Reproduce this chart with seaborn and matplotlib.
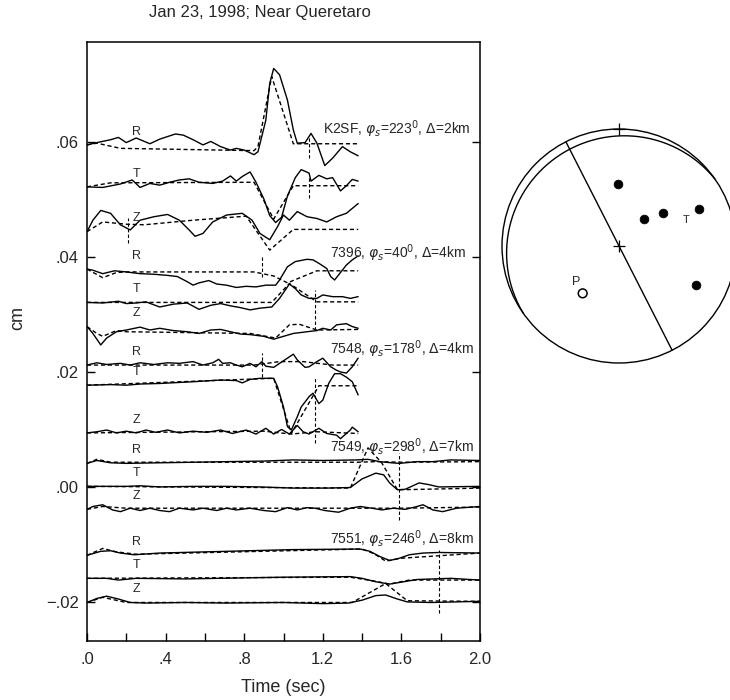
import numpy as np
import pandas as pd
import seaborn as sns
import matplotlib.pyplot as plt
from matplotlib.patches import Circle

# ---- data ----
# each trace: (time in sec, amplitude in 0.001 cm above the trace baseline)
k2sf_r_obs = [(0.00, 0.0), (0.05, 0.4), (0.12, 0.9), (0.16, 1.3), (0.20, 0.4), (0.25, 1.2), (0.32, 0.2),
              (0.37, 1.0), (0.45, 1.9), (0.49, 1.7), (0.54, 0.9), (0.59, 0.0), (0.63, 0.6), (0.68, -0.3),
              (0.73, -0.9), (0.76, -0.6), (0.80, -0.9), (0.85, -1.7), (0.87, -1.2), (0.91, 4.3), (0.93, 10.7),
              (0.95, 13.3), (0.98, 12.2), (1.02, 7.8), (1.05, 2.6), (1.07, 0.3), (1.11, 0.4), (1.14, 2.0),
              (1.17, 0.3), (1.21, -3.6), (1.25, -2.3), (1.30, -0.3), (1.34, -1.2), (1.38, -1.9)]
k2sf_r_syn = [(0.00, 0.0), (0.05, 0.3), (0.17, -0.6), (0.85, -1.0), (0.87, -0.3), (0.94, 11.9),
              (1.05, 0.2), (1.38, 0.2)]
k2sf_t_obs = [(0.00, 0.0), (0.08, -0.1), (0.17, 0.5), (0.23, 1.2), (0.27, -0.1), (0.32, 0.6), (0.37, 0.3),
              (0.42, 0.8), (0.47, 1.2), (0.52, 1.4), (0.57, 0.8), (0.64, 0.6), (0.69, 1.0), (0.73, 1.9),
              (0.76, 1.0), (0.79, 1.8), (0.83, 2.6), (0.86, 0.8), (0.90, -2.1), (0.93, -5.0), (0.96, -6.2),
              (0.99, -5.3), (1.02, -1.6), (1.06, 1.6), (1.09, 3.0), (1.13, 2.4), (1.14, 1.0), (1.18, 2.0),
              (1.22, 1.4), (1.25, 1.6), (1.29, -0.7), (1.32, 0.2), (1.35, 1.3), (1.38, 1.0)]
k2sf_t_syn = [(0.00, 0.0), (0.12, 0.7), (0.85, 0.8), (0.95, -5.6), (1.05, 0.2), (1.38, 0.2)]
k2sf_z_obs = [(0.00, 0.0), (0.03, 2.0), (0.07, 3.7), (0.12, 3.2), (0.17, 1.2), (0.22, 0.3), (0.27, 2.0),
              (0.34, 2.6), (0.41, 3.0), (0.47, 2.0), (0.52, 0.3), (0.55, -0.8), (0.59, -0.3), (0.64, 1.7),
              (0.71, 2.9), (0.79, 3.2), (0.84, 2.0), (0.88, -0.3), (0.93, -1.4), (0.97, 0.9), (1.00, 2.9),
              (1.03, 2.0), (1.07, 3.5), (1.12, 2.6), (1.17, 2.3), (1.22, 1.7), (1.27, 2.6), (1.32, 3.2),
              (1.38, 4.9)]
k2sf_z_syn = [(0.00, 0.0), (0.08, 1.7), (0.20, 1.3), (0.29, 1.2), (0.54, 2.0), (0.81, 2.7), (0.93, -3.2),
              (1.05, 0.4), (1.38, 0.4)]

st7396_r_obs = [(0.00, 0.0), (0.03, -0.2), (0.08, -0.8), (0.14, -0.3), (0.20, -0.5), (0.27, -0.8),
                (0.34, -0.9), (0.41, -1.1), (0.46, -1.3), (0.51, -2.2), (0.54, -2.8), (0.57, -2.4),
                (0.62, -2.0), (0.66, -2.6), (0.71, -2.8), (0.76, -3.2), (0.81, -3.0), (0.86, -3.1),
                (0.91, -2.8), (0.96, -2.8), (0.98, -1.9), (1.02, 0.4), (1.06, 1.3), (1.12, 1.7), (1.15, 1.6),
                (1.18, 1.0), (1.22, 0.1), (1.24, -1.3), (1.26, -1.9), (1.29, -0.6), (1.32, 0.7), (1.35, 1.6),
                (1.38, 2.3)]
st7396_r_syn = [(0.00, 0.0), (0.08, -1.5), (0.15, -0.6), (0.20, -0.5), (0.85, -0.5), (0.95, -1.2),
                (1.02, -2.4), (1.17, -0.3), (1.38, -0.3)]
st7396_t_obs = [(0.00, 0.0), (0.08, -0.1), (0.16, 0.2), (0.20, -0.2), (0.25, -0.1), (0.30, 0.1), (0.37, -0.8),
                (0.44, -0.3), (0.51, -0.1), (0.57, -1.2), (0.63, -0.5), (0.68, -0.2), (0.73, -0.6),
                (0.78, -0.9), (0.83, -1.3), (0.88, -1.0), (0.94, -0.8), (0.98, 0.7), (1.03, 3.2), (1.06, 2.4),
                (1.09, 1.3), (1.13, 0.7), (1.17, 0.7), (1.20, 1.3), (1.25, 1.0), (1.30, 1.0), (1.34, 0.7),
                (1.38, 1.0)]
st7396_t_syn = [(0.00, 0.0), (0.94, 0.0), (1.03, 3.3), (1.17, 0.1), (1.38, 0.1)]
st7396_z_obs = [(0.00, 0.0), (0.03, -1.2), (0.07, -3.2), (0.10, -2.0), (0.15, -0.9), (0.20, -0.6),
                (0.27, -0.1), (0.32, -0.6), (0.37, -0.3), (0.44, -0.7), (0.51, -0.9), (0.57, -1.2),
                (0.63, -0.6), (0.68, -0.5), (0.73, -0.9), (0.78, -1.3), (0.83, -1.4), (0.90, -1.7),
                (0.95, -2.2), (0.98, -1.9), (1.05, -1.2), (1.12, -0.9), (1.17, -0.7), (1.20, -0.3),
                (1.24, -0.6), (1.27, 0.3), (1.32, 0.5), (1.35, 0.0), (1.38, -0.3)]
st7396_z_syn = [(0.00, 0.0), (0.05, -1.2), (0.08, -1.7), (0.15, -0.7), (0.20, -0.9), (0.83, -1.2),
                (0.96, -2.0), (1.03, 0.3), (1.08, 0.4), (1.17, -0.6), (1.38, -0.5)]

st7548_r_obs = [(0.00, 0.0), (0.05, 0.4), (0.10, 0.1), (0.17, 0.3), (0.22, 0.0), (0.27, 0.4), (0.34, 0.1),
                (0.41, 0.4), (0.47, 0.3), (0.54, 0.6), (0.59, 0.0), (0.64, 0.4), (0.67, 1.0), (0.69, 0.3),
                (0.73, 0.4), (0.76, 0.0), (0.79, -0.3), (0.83, 0.3), (0.86, -0.3), (0.89, 0.6), (0.91, -0.2),
                (0.95, -0.4), (0.98, 0.3), (1.02, 1.2), (1.05, 1.9), (1.07, 0.9), (1.11, -0.4), (1.13, -0.3),
                (1.17, 0.6), (1.20, 1.2), (1.24, -0.3), (1.27, -0.9), (1.29, -1.2), (1.32, -1.4),
                (1.35, -0.3), (1.38, 1.2)]
st7548_r_syn = [(0.00, 0.0), (0.85, 0.0), (0.98, 0.6), (1.10, 0.6), (1.25, 0.0), (1.38, 0.0)]
st7548_t_obs = [(0.00, 0.0), (0.12, 0.1), (0.20, 0.0), (0.27, 0.2), (0.37, 0.3), (0.54, 0.6), (0.68, 0.9),
                (0.76, 0.8), (0.79, 0.4), (0.83, 1.0), (0.88, 1.2), (0.95, 1.2), (0.97, -0.3), (1.00, -3.8),
                (1.02, -7.2), (1.04, -7.8), (1.07, -5.5), (1.09, -3.8), (1.13, -2.0), (1.15, -1.4),
                (1.18, -3.2), (1.20, -2.6), (1.23, 0.3), (1.26, 2.0), (1.29, 2.0), (1.32, 1.4), (1.35, 0.6),
                (1.38, -1.7)]
st7548_t_syn = [(0.00, 0.0), (0.95, 1.2), (1.04, -8.4), (1.18, -0.1), (1.38, -0.1)]
st7548_z_obs = [(0.00, 0.0), (0.05, 0.2), (0.10, 0.5), (0.15, 0.0), (0.20, 0.3), (0.25, 0.0), (0.30, 0.5),
                (0.35, 0.1), (0.41, 0.5), (0.47, 0.0), (0.54, 0.3), (0.61, 0.1), (0.68, 0.5), (0.74, -0.1),
                (0.81, 0.5), (0.86, -0.2), (0.91, 0.8), (0.95, -0.2), (0.99, 0.6), (1.03, -0.2), (1.07, 1.3),
                (1.10, 0.2), (1.13, -0.2), (1.18, 0.8), (1.22, -0.1), (1.27, -0.4), (1.29, -1.0), (1.34, 0.5),
                (1.35, 1.0), (1.38, 0.2)]
st7548_z_syn = [(0.00, 0.0), (0.90, 0.3), (1.04, -0.2), (1.17, 0.2), (1.38, -0.1)]

st7549_r_obs = [(0.00, 0.0), (0.05, 0.5), (0.12, 0.1), (0.20, 0.0), (0.37, 0.1), (0.55, 0.2), (0.71, 0.3),
                (0.90, 0.4), (1.05, 0.6), (1.20, 0.5), (1.37, 0.6), (1.43, 0.7), (1.49, 0.3), (1.55, 0.1),
                (1.59, 0.0), (1.68, 0.3), (1.76, 0.3), (1.85, 0.6), (2.00, 0.5)]
st7549_r_syn = [(0.00, 0.0), (0.05, 0.7), (0.12, 0.2), (1.38, 0.2), (1.47, 0.3), (1.60, 0.2), (2.00, 0.3)]
st7549_t_obs = [(0.00, 0.0), (0.20, 0.0), (0.27, 0.1), (0.37, -0.1), (0.54, 0.0), (0.71, 0.0), (0.88, -0.1),
                (1.05, -0.3), (1.22, -0.3), (1.34, -0.2), (1.40, 1.3), (1.47, 2.3), (1.51, 2.0), (1.54, 0.6),
                (1.58, -0.6), (1.62, -0.5), (1.69, 0.6), (1.74, 0.3), (1.79, -0.1), (2.00, 0.0)]
st7549_t_syn = [(0.00, 0.0), (1.34, -0.3), (1.43, 6.7), (1.50, 4.1), (1.58, -0.6), (2.00, -0.3)]
st7549_z_obs = [(0.00, 0.0), (0.03, 0.5), (0.08, 0.8), (0.13, -0.1), (0.17, -0.4), (0.22, 0.2), (0.27, -0.2),
                (0.32, 0.2), (0.37, -0.2), (0.42, -0.4), (0.47, 0.2), (0.54, -0.1), (0.59, 0.2), (0.66, -0.2),
                (0.71, 0.2), (0.76, -0.1), (0.83, 0.2), (0.90, -0.2), (0.96, -0.4), (1.02, 0.3), (1.07, -0.1),
                (1.12, 0.3), (1.16, 0.2), (1.21, -0.2), (1.28, -0.5), (1.34, 0.2), (1.39, 0.5), (1.45, 0.2),
                (1.50, -0.1), (1.56, 0.2), (1.62, 0.0), (1.68, 0.5), (1.71, 0.8), (1.76, -0.1), (1.81, -0.4),
                (1.88, 0.2), (2.00, 0.5)]
st7549_z_syn = [(0.00, 0.0), (0.08, 0.5), (0.20, 0.2), (1.60, 0.2), (2.00, 0.4)]

st7551_r_obs = [(0.00, 0.0), (0.07, 0.7), (0.12, 0.8), (0.17, 0.4), (0.24, 0.1), (0.37, 0.4), (0.71, 0.7),
                (1.05, 1.0), (1.39, 1.1), (1.44, 0.7), (1.49, -0.2), (1.54, -0.9), (1.59, -0.5), (1.64, 0.1),
                (1.71, 0.4), (1.79, 0.5), (2.00, 0.4)]
st7551_r_syn = [(0.00, 0.0), (0.08, 1.2), (0.15, 0.6), (0.25, 0.2), (1.40, 1.1), (1.46, 0.3), (1.52, -1.0),
                (1.60, -0.5), (2.00, 0.4)]
st7551_t_obs = [(0.00, 0.0), (0.10, 0.0), (0.16, -0.3), (0.25, 0.0), (0.50, -0.1), (1.00, 0.2), (1.34, 0.3),
                (1.40, 0.0), (1.47, -0.6), (1.54, -1.0), (1.61, -0.6), (1.68, -0.2), (1.85, 0.0), (2.00, -0.3)]
st7551_t_syn = [(0.00, 0.0), (1.34, 0.2), (1.45, -0.4), (1.54, -1.0), (1.64, -0.3), (2.00, -0.3)]
st7551_z_obs = [(0.00, 0.0), (0.05, 0.7), (0.10, 1.1), (0.16, 0.6), (0.22, 0.0), (0.30, -0.1), (0.50, 0.0),
                (0.70, -0.1), (1.00, 0.0), (1.20, -0.2), (1.33, -0.1), (1.40, 0.4), (1.47, 1.2), (1.52, 1.3),
                (1.58, 0.6), (1.63, 0.1), (1.75, 0.0), (2.00, 0.2)]
st7551_z_syn = [(0.00, 0.0), (0.08, 0.9), (0.20, 0.0), (1.35, 0.0), (1.52, 3.3), (1.63, 0.3), (2.00, 0.2)]

stations = ["K2SF", "7396", "7548", "7549", "7551"]
phi_s = [223, 40, 178, 298, 246]
dist_km = [2, 4, 4, 7, 8]
components = ["R", "T", "Z"]
# trace baselines in cm
base_r = [0.0595, 0.0379, 0.0212, 0.0041, -0.0119]
base_t = [0.0522, 0.0321, 0.0177, 0.0001, -0.0159]
base_z = [0.0444, 0.0279, 0.0094, -0.0039, -0.0201]

# dashed arrival marks: time, top, bottom (cm)
mark_t = [1.13, 1.13, 0.21, 0.89, 1.16, 0.89, 1.16, 1.59, 1.79]
mark_top = [0.0612, 0.0540, 0.0467, 0.0403, 0.0343, 0.0233, 0.0192, 0.0059, -0.0110]
mark_bot = [0.0572, 0.0502, 0.0424, 0.0366, 0.0273, 0.0192, 0.0076, -0.0057, -0.0220]

xtick_vals = [0.0, 0.4, 0.8, 1.2, 1.6, 2.0]
xtick_labels = [".0", ".4", ".8", "1.2", "1.6", "2.0"]
ytick_vals = [0.06, 0.04, 0.02, 0.0, -0.02]
ytick_labels = [".06", ".04", ".02", ".00", "\u2212.02"]

# focal mechanism: nodal planes (strike, dip), polarities (azimuth deg, projected radius)
plane_strike = [333, 235]
plane_dip = [90, 8]
comp_az = [359, 43, 53, 65, 117]
comp_r = [0.53, 0.31, 0.47, 0.75, 0.74]
dil_az = [217.5]
dil_r = [0.51]
p_axis = (230, 0.48)
t_axis = (69, 0.61)

obs = [[k2sf_r_obs, k2sf_t_obs, k2sf_z_obs], [st7396_r_obs, st7396_t_obs, st7396_z_obs],
       [st7548_r_obs, st7548_t_obs, st7548_z_obs], [st7549_r_obs, st7549_t_obs, st7549_z_obs],
       [st7551_r_obs, st7551_t_obs, st7551_z_obs]]
syn = [[k2sf_r_syn, k2sf_t_syn, k2sf_z_syn], [st7396_r_syn, st7396_t_syn, st7396_z_syn],
       [st7548_r_syn, st7548_t_syn, st7548_z_syn], [st7549_r_syn, st7549_t_syn, st7549_z_syn],
       [st7551_r_syn, st7551_t_syn, st7551_z_syn]]
bases = [base_r, base_t, base_z]

rows = []
for i, name in enumerate(stations):
    for j, comp in enumerate(components):
        for kind, traces in (("obs", obs), ("syn", syn)):
            for t, a in traces[i][j]:
                rows.append({"trace": f"{name}-{comp}-{kind}", "kind": kind,
                             "time": t, "cm": bases[j][i] + a / 1000.0})
df = pd.DataFrame(rows)

# ---- style ----
sns.set_theme(style="white")
plt.rcParams["font.family"] = ["Liberation Sans", "DejaVu Sans"]
plt.rcParams.update({
    "xtick.direction": "in", "ytick.direction": "in",
    "ytick.right": True, "xtick.bottom": True, "ytick.left": True,
    "axes.edgecolor": "black", "axes.linewidth": 1.1,
})

fig = plt.figure(figsize=(7.3, 7.0), dpi=100)
ax = fig.add_axes([87 / 730, 59 / 700, 393 / 730, 599 / 700])

sns.lineplot(data=df, x="time", y="cm", units="trace", style="kind",
             dashes={"obs": "", "syn": (3, 2)}, color="black", linewidth=1.0,
             estimator=None, sort=False, legend=False, ax=ax)
ax.vlines(mark_t, mark_bot, mark_top, colors="black", linestyles=(0, (3, 2)), linewidth=0.8)

for i, name in enumerate(stations):
    for j, comp in enumerate(components):
        ax.text(0.25, bases[j][i] + 0.0023, comp, ha="center", va="center", fontsize=9)
    lx = 1.20 if i == 0 else 1.235
    ax.text(lx, base_r[i] + 0.0028,
            f"{name}, $\\varphi_s$={phi_s[i]}$^0$, $\\Delta$={dist_km[i]}km",
            ha="left", va="center", fontsize=10)

ax.set_xlim(0, 2.0)
ax.set_ylim(-0.0268, 0.0774)
ax.set_xticks(xtick_vals, xtick_labels, fontsize=12)
ax.set_xticks([0.2, 0.6, 1.0, 1.4, 1.8], minor=True)
ax.set_yticks(ytick_vals, ytick_labels, fontsize=12)
ax.tick_params(which="both", length=6, width=1.0, color="black")
ax.tick_params(axis="x", pad=8)
ax.tick_params(axis="y", pad=6)
ax.set_xlabel("Time (sec)", fontsize=13)
ax.set_ylabel("cm", fontsize=13)
ax.xaxis.set_label_coords(0.5, -0.063)
ax.yaxis.set_label_coords(-0.155, 0.54)
fig.text(260 / 730, 1 - 13 / 700, "Jan 23, 1998; Near Queretaro", ha="center", va="center", fontsize=12)

# ---- focal mechanism ----
bx = fig.add_axes([502 / 730, 1 - 363 / 700, 234 / 730, 234 / 700])
bx.set_xlim(-1, 1)
bx.set_ylim(-1, 1)
bx.axis("off")
bx.add_patch(Circle((0, 0), 1.0, fill=False, lw=1.0, color="black", clip_on=False))


def great_circle(strike, dip):
    s, d = np.radians(strike), np.radians(dip)
    th = np.radians(np.linspace(0, 180, 181))
    n = np.cos(th) * np.cos(s) + np.sin(th) * np.cos(s + np.pi / 2) * np.cos(d)
    e = np.cos(th) * np.sin(s) + np.sin(th) * np.sin(s + np.pi / 2) * np.cos(d)
    down = np.sin(th) * np.sin(d)
    plunge = np.arcsin(np.clip(down, -1, 1))
    az = np.arctan2(e, n)
    r = np.sqrt(2) * np.sin((np.pi / 2 - plunge) / 2)
    return r * np.sin(az), r * np.cos(az)


for st, dp in zip(plane_strike, plane_dip):
    gx, gy = great_circle(st, dp)
    bx.plot(gx, gy, color="black", lw=1.0, clip_on=False)


def to_xy(az, r):
    a = np.radians(np.asarray(az, dtype=float))
    return np.asarray(r) * np.sin(a), np.asarray(r) * np.cos(a)


cx, cy = to_xy(comp_az, comp_r)
sns.scatterplot(x=cx, y=cy, color="black", s=40, edgecolor="black", ax=bx, clip_on=False)
dx, dy = to_xy(dil_az, dil_r)
bx.scatter(dx, dy, s=40, facecolors="none", edgecolors="black", linewidths=1.1)
px, py = to_xy([p_axis[0]], [p_axis[1]])
bx.text(px[0], py[0], "P", ha="center", va="center", fontsize=9)
tx, ty = to_xy([t_axis[0]], [t_axis[1]])
bx.text(tx[0], ty[0], "T", ha="center", va="center", fontsize=8)
bx.plot([0, 0], [0, 1], "+", color="black", ms=8, mew=0.9, clip_on=False)

fig.savefig("out.png", dpi=100)
